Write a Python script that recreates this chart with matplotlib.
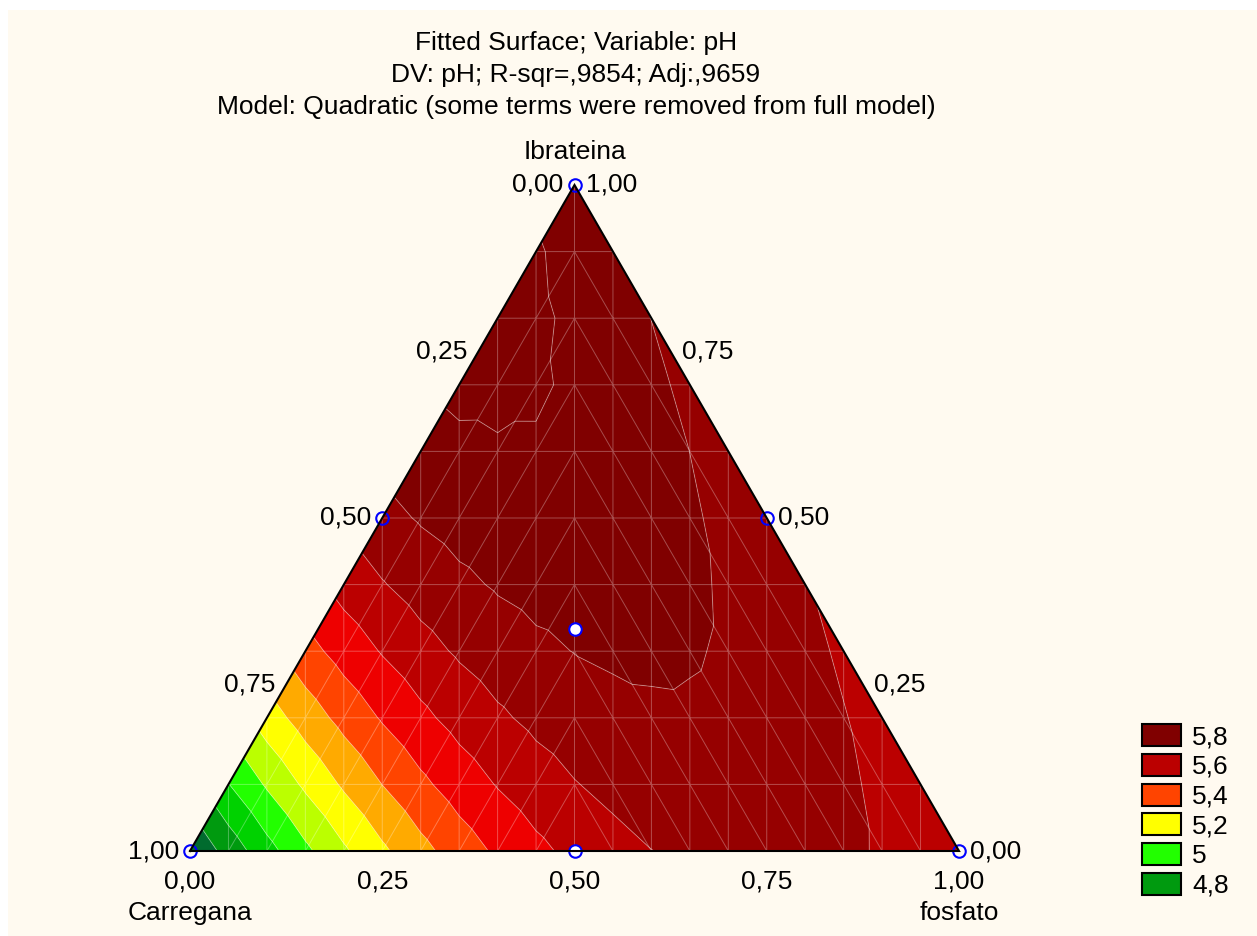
import numpy as np
import matplotlib
matplotlib.use("Agg")
import matplotlib.pyplot as plt
import matplotlib.tri as mtri
from matplotlib.colors import ListedColormap, BoundaryNorm
from matplotlib.patches import Patch, Rectangle

plt.rcParams['font.family'] = ['Liberation Sans', 'DejaVu Sans']

# Scheffé quadratic mixture model for pH
# components: Carregana (x1), Ibrateina (x2), fosfato (x3)
linear_terms = [4.705, 5.845, 5.615]        # b1, b2, b3
interaction_terms = [1.982, 1.865, 0.0]     # b12, b13, b23 (b23 removed)

contour_levels = [4.8, 4.9, 5.0, 5.1, 5.2, 5.3, 5.4, 5.5, 5.6, 5.7, 5.8, 5.9]
band_colors = ['#006B2E', '#009A0F', '#00D200', '#22FF00', '#BBFF00', '#FFFF00',
               '#FFAA00', '#FF4400', '#EE0000', '#BB0000', '#960000', '#800000',
               '#800000']
legend_levels = [5.8, 5.6, 5.4, 5.2, 5.0, 4.8]
legend_labels = ['5,8', '5,6', '5,4', '5,2', '5', '4,8']

# design points (Carregana, Ibrateina, fosfato) and whether they are drawn filled
design_points = [(1, 0, 0), (0, 1, 0), (0, 0, 1),
                 (0.5, 0.5, 0), (0.5, 0, 0.5), (0, 0.5, 0.5),
                 (1 / 3, 1 / 3, 1 / 3)]
design_filled = [False, False, False, False, True, False, True]

tick_values = [0.0, 0.25, 0.5, 0.75, 1.0]
tick_labels = ['0,00', '0,25', '0,50', '0,75', '1,00']

title_lines = ['Fitted Surface; Variable: pH',
               'DV: pH; R-sqr=,9854; Adj:,9659',
               'Model: Quadratic (some terms were removed from full model)']

H = np.sqrt(3) / 2
N_COL, N_ROW = 20, 10
FS = 19


def to_xy(x1, x2, x3):
    return x3 + x2 / 2.0, x2 * H


def model(x1, x2, x3):
    b1, b2, b3 = linear_terms
    b12, b13, b23 = interaction_terms
    return (b1 * x1 + b2 * x2 + b3 * x3
            + b12 * x1 * x2 + b13 * x1 * x3 + b23 * x2 * x3)


# lattice mesh: rows of constant Ibrateina, columns of constant screen x
node_index = {}
px, py = [], []
for j in range(N_ROW + 1):
    for k in range(j, N_COL - j + 1):
        node_index[(k, j)] = len(px)
        px.append(k / N_COL)
        py.append(j / N_ROW * H)
px = np.array(px)
py = np.array(py)

triangles = []
for j in range(N_ROW):
    for k in range(j, N_COL - j):
        a = node_index[(k, j)]
        b = node_index[(k + 1, j)]
        c = node_index.get((k, j + 1))
        d = node_index.get((k + 1, j + 1))
        if k < N_COL // 2:
            triangles.append([a, b, d])
            if c is not None:
                triangles.append([a, d, c])
        else:
            triangles.append([a, b, c])
            if d is not None:
                triangles.append([b, d, c])
tri = mtri.Triangulation(px, py, np.array(triangles))

x2n = py / H
x3n = px - x2n / 2.0
x1n = 1.0 - x2n - x3n
z = model(x1n, x2n, x3n)

fig = plt.figure(figsize=(12.57, 9.36), dpi=100, facecolor='white')
fig.patches.append(Rectangle((8 / 1257, 0), 1, 1 - 10 / 936,
                             transform=fig.transFigure, facecolor='#FFFAF0',
                             edgecolor='none', zorder=-10))

ax = fig.add_axes([190 / 1257, 85 / 936, 769 / 1257, 666 / 936])
ax.set_xlim(0, 1)
ax.set_ylim(0, H)
ax.axis('off')

cmap = ListedColormap(band_colors[1:-1])
cmap.set_under(band_colors[0])
cmap.set_over(band_colors[-1])
norm = BoundaryNorm(contour_levels, cmap.N)

ax.tricontourf(tri, z, levels=contour_levels, cmap=cmap, norm=norm,
               extend='both', zorder=1, antialiased=True)
ax.triplot(tri, color='white', alpha=0.3, lw=0.7, zorder=2)
ax.tricontour(tri, z, levels=contour_levels, colors='white', alpha=0.35,
              linewidths=0.7, zorder=2)

# design points
for (c1, c2, c3), filled in zip(design_points, design_filled):
    x, y = to_xy(c1, c2, c3)
    ax.plot([x], [y], 'o', ms=9, mfc='white' if filled else 'none',
            mec='#0000FF', mew=1.5, zorder=4, clip_on=False)

# triangle outline
vx, vy = to_xy(np.array([1, 0, 0, 1]), np.array([0, 1, 0, 0]),
               np.array([0, 0, 1, 0]))
ax.plot(vx, vy, color='black', lw=1.5, zorder=5, clip_on=False,
        solid_joinstyle='miter')

# edge scales
for v, lab in zip(tick_values, tick_labels):
    # Carregana along the left edge
    x, y = to_xy(v, 1 - v, 0)
    ax.annotate(lab, (x, y), xytext=(-11, 0), textcoords='offset pixels',
                ha='right', va='center', fontsize=FS)
    # Ibrateina along the right edge
    x, y = to_xy(0, v, 1 - v)
    ax.annotate(lab, (x, y), xytext=(11, 0), textcoords='offset pixels',
                ha='left', va='center', fontsize=FS)
    # fosfato along the bottom edge
    x, y = to_xy(1 - v, 0, v)
    ax.annotate(lab, (x, y), xytext=(0, -30), textcoords='offset pixels',
                ha='center', va='center', fontsize=FS)

ax.annotate('Ibrateina', to_xy(0, 1, 0), xytext=(0, 33),
            textcoords='offset pixels', ha='center', va='center', fontsize=FS)
ax.annotate('Carregana', to_xy(1, 0, 0), xytext=(0, -62),
            textcoords='offset pixels', ha='center', va='center', fontsize=FS)
ax.annotate('fosfato', to_xy(0, 0, 1), xytext=(0, -62),
            textcoords='offset pixels', ha='center', va='center', fontsize=FS)

for i, line in enumerate(title_lines):
    fig.text(576 / 1257, 1 - (43 + 32 * i) / 936, line, ha='center',
             va='center', fontsize=FS)

handles = [Patch(facecolor=cmap(norm(lv)), edgecolor='black', linewidth=1.5)
           for lv in legend_levels]
fig.legend(handles, legend_labels, loc='upper left',
           bbox_to_anchor=(1142 / 1257, 1 - 724 / 936), frameon=False,
           fontsize=FS, handlelength=1.48, handleheight=0.91,
           labelspacing=0.175, handletextpad=0.42, borderpad=0,
           borderaxespad=0)

fig.savefig('out.png', dpi=100, facecolor=fig.get_facecolor())
